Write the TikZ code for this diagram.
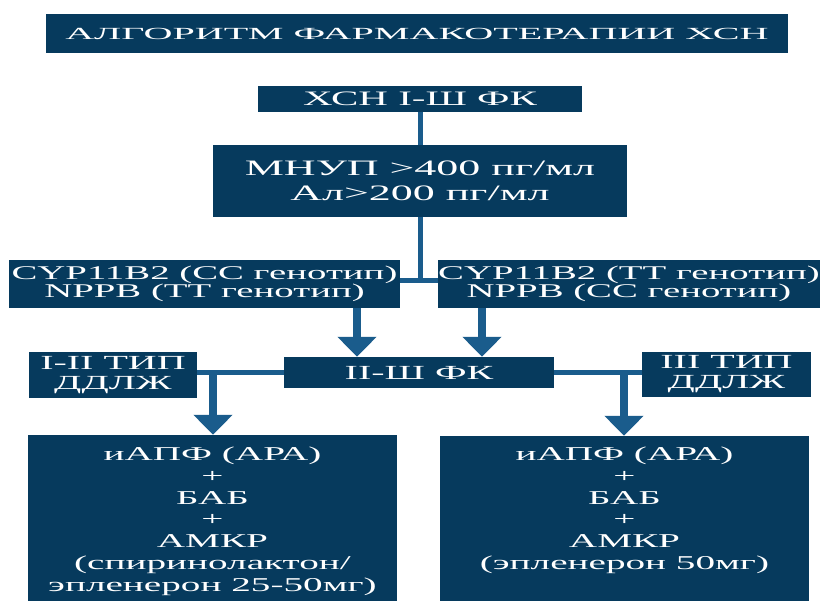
\documentclass[tikz,border=0pt]{standalone}
\usepackage{fontspec}
\setmainfont{Liberation Serif}
\newfontfamily\bodyf[FakeStretch=2.0]{Liberation Serif}
\newfontfamily\titlef[FakeStretch=2.36]{Liberation Serif}
\usetikzlibrary{arrows.meta}
\definecolor{boxblue}{HTML}{063A5D}
\definecolor{lineblue}{HTML}{1A5C8C}
\begin{document}
\begin{tikzpicture}[x=1pt,y=-1pt,
  box/.style={fill=boxblue, draw=none, text=white, inner sep=0pt, align=center},
  txt/.style={text=white, inner sep=0pt, align=center},
  conn/.style={draw=lineblue, line width=5pt},
  arr/.style={draw=lineblue, line width=8pt, -{Triangle[width=38pt,length=20pt]}}
]
\useasboundingbox (0,0) rectangle (822,601);
\fill[white] (0,0) rectangle (822,601);

\node[box, minimum width=742pt, minimum height=39pt,
  font={\titlef\fontsize{17}{20}\selectfont}] (title) at (417,33.5)
  {АЛГОРИТМ ФАРМАКОТЕРАПИИ ХСН};
\node[box, minimum width=324pt, minimum height=26pt,
  font={\bodyf\fontsize{20.5}{22}\selectfont}] (xsn) at (420,99)
  {ХСН I-Ш ФК};
\node[box, minimum width=414pt, minimum height=72pt,
  font={\bodyf\fontsize{22}{25}\selectfont}] (mnup) at (420,181)
  {МНУП >400 пг/мл\\Ал>200 пг/мл};
\node[box, minimum width=391pt, minimum height=48pt,
  font={\bodyf\fontsize{19.4}{16}\selectfont}] (cypL) at (204.5,284)
  {CYP11B2 (CC генотип)\\NPPB (TT генотип)};
\node[box, minimum width=382pt, minimum height=48pt,
  font={\bodyf\fontsize{19.4}{16}\selectfont}] (cypR) at (629,284)
  {CYP11B2 (TT генотип)\\NPPB (CC генотип)};
\node[box, minimum width=270pt, minimum height=31pt,
  font={\bodyf\fontsize{20}{22}\selectfont}] (fk) at (419,372.5)
  {II-Ш ФК};
\node[box, minimum width=168pt, minimum height=46pt,
  font={\bodyf\fontsize{20}{20}\selectfont}] (tipL) at (113,375)
  {I-II ТИП\\ДДЛЖ};
\node[box, minimum width=169pt, minimum height=45pt,
  font={\bodyf\fontsize{20}{20}\selectfont}] (tipR) at (726.5,374.5)
  {III ТИП\\ДДЛЖ};
\node[box, minimum width=369pt, minimum height=166pt] (bigL) at (212.5,518) {};
\node[box, minimum width=369pt, minimum height=165pt] (bigR) at (624.5,518.5) {};
\node[txt, anchor=north, font={\bodyf\fontsize{19.6}{21.7}\selectfont}] (txtL) at (212.5,447)
  {иАПФ (АРА)\\+\\БАБ\\+\\АМКР\\(спиринолактон/\\эпленерон 25-50мг)};
\node[txt, anchor=north, font={\bodyf\fontsize{19.6}{21.7}\selectfont}] (txtR) at (624.5,447)
  {иАПФ (АРА)\\+\\БАБ\\+\\АМКР\\(эпленерон 50мг)};

\coordinate (jC) at (419,281);
\coordinate (jL) at (213,371);
\coordinate (jR) at (624,371);
\draw[conn] (xsn.south) -- (mnup.north);
\draw[conn] (mnup.south) -- (mnup.south |- jC);
\draw[conn] (jC -| cypL.east) -- (jC -| cypR.west);
\draw[arr] ([xshift=152.5pt]cypL.south) -- ([xshift=152.5pt]cypL.south |- fk.north);
\draw[arr] ([xshift=-147pt]cypR.south) -- ([xshift=-147pt]cypR.south |- fk.north);
\draw[conn] (fk.west) -- (fk.west -| tipL.east);
\draw[conn] (fk.east) -- (fk.east -| tipR.west);
\draw[arr] (jL) -- (jL |- bigL.north);
\draw[arr] (jR) -- (jR |- bigR.north);
\end{tikzpicture}
\end{document}
